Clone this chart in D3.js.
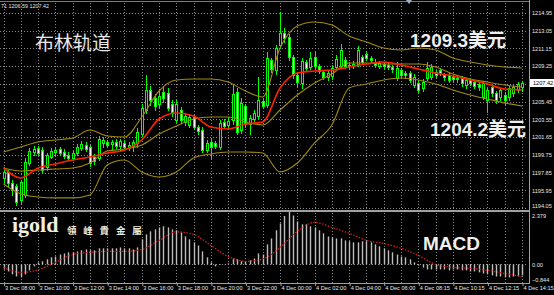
<!DOCTYPE html>
<html>
<head>
<meta charset="utf-8">
<script src="https://cdnjs.cloudflare.com/ajax/libs/d3/7.8.5/d3.min.js"></script>
<style>
  html, body { margin: 0; padding: 0; background: #000; }
  svg { display: block; }
  .ax text { fill: #e6e6e6; font-family: "Liberation Sans", Arial, sans-serif; font-size: 5.6px; }
</style>
</head>
<body>
<div id="chart"></div>
<script>
// M15 bars, [open, high, low, close]
const candles = [
  [1197.27,1198.44,1196.84,1197.91],[1197.91,1198.12,1196.41,1196.73],[1196.73,1197.05,1195.45,1195.98],
  [1196.41,1196.62,1194.37,1194.70],[1194.91,1197.05,1194.59,1196.84],[1195.45,1199.41,1195.23,1198.98],
  [1198.87,1200.48,1198.66,1200.16],[1200.05,1200.70,1199.73,1200.37],[1200.48,1200.70,1199.73,1199.94],
  [1200.27,1200.59,1197.91,1198.12],[1198.44,1199.94,1198.12,1199.73],[1199.52,1200.48,1199.41,1200.16],
  [1200.05,1200.59,1199.62,1200.27],[1200.37,1200.59,1199.73,1199.94],[1200.05,1200.37,1199.41,1199.62],
  [1199.73,1200.05,1199.19,1199.41],[1199.41,1200.16,1199.19,1199.94],[1199.94,1200.91,1199.73,1200.59],
  [1200.48,1201.23,1200.27,1200.91],[1200.80,1201.12,1200.16,1200.37],[1200.59,1200.80,1198.55,1198.87],
  [1199.52,1199.84,1198.77,1199.09],[1199.41,1201.77,1199.19,1201.45],[1201.02,1201.66,1200.59,1201.34],
  [1201.12,1201.34,1200.59,1200.80],[1200.91,1201.34,1200.27,1201.12],[1201.12,1201.45,1200.48,1200.70],
  [1200.70,1201.45,1200.27,1201.23],[1201.02,1201.34,1200.27,1200.59],[1200.59,1201.12,1200.27,1200.80],
  [1200.70,1201.34,1200.16,1201.12],[1201.02,1202.62,1200.59,1202.20],[1201.98,1205.20,1201.77,1204.77],
  [1204.55,1208.30,1204.23,1206.70],[1206.70,1207.13,1205.09,1205.63],[1205.84,1206.27,1204.55,1204.98],
  [1205.20,1206.80,1204.88,1206.05],[1206.48,1207.13,1205.41,1205.84],[1206.38,1206.91,1204.55,1204.77],
  [1205.20,1205.63,1203.91,1204.34],[1203.48,1205.63,1203.27,1205.20],[1204.55,1204.88,1203.16,1203.48],
  [1203.27,1204.23,1202.95,1203.91],[1202.95,1204.13,1202.73,1203.80],[1203.80,1204.02,1202.52,1202.73],
  [1202.73,1202.95,1201.98,1202.30],[1202.41,1202.73,1200.05,1200.27],[1200.27,1201.34,1200.05,1201.02],
  [1201.12,1201.55,1199.41,1200.59],[1201.02,1201.23,1200.48,1200.70],[1200.59,1203.48,1200.37,1203.16],
  [1203.27,1203.59,1202.62,1202.84],[1202.95,1203.70,1202.62,1203.38],[1203.48,1207.23,1203.05,1206.27],
  [1206.48,1206.91,1201.98,1202.20],[1202.41,1205.84,1202.09,1205.30],[1204.98,1205.20,1202.73,1203.05],
  [1203.05,1204.02,1201.98,1203.70],[1203.59,1204.55,1203.38,1204.23],[1203.91,1208.09,1203.70,1205.63],
  [1205.52,1205.84,1204.77,1204.98],[1205.09,1210.77,1204.88,1210.13],[1209.91,1210.13,1208.63,1208.95],
  [1208.84,1211.52,1208.41,1211.20],[1211.52,1215.06,1211.20,1212.81],[1212.81,1213.34,1211.84,1212.27],
  [1212.38,1212.70,1209.91,1210.23],[1210.23,1210.45,1207.98,1208.30],[1208.30,1208.63,1207.13,1207.55],
  [1207.45,1210.13,1206.91,1209.81],[1209.70,1209.91,1208.73,1209.06],[1209.16,1210.77,1208.95,1210.13],
  [1210.23,1210.77,1209.06,1209.27],[1209.27,1209.48,1208.52,1208.73],[1208.63,1208.84,1207.88,1208.09],
  [1208.09,1208.84,1207.77,1208.52],[1208.20,1209.38,1207.88,1209.06],[1209.16,1210.45,1208.95,1210.02],
  [1209.27,1211.63,1209.06,1210.98],[1209.91,1210.23,1209.06,1209.27],[1209.27,1209.70,1208.95,1209.38],
  [1209.27,1209.81,1209.06,1209.48],[1209.48,1211.41,1209.27,1210.98],[1210.23,1210.45,1209.48,1209.70],
  [1210.56,1210.88,1209.91,1210.13],[1210.13,1210.34,1209.70,1209.91],[1209.70,1210.02,1209.16,1209.38],
  [1209.27,1209.81,1209.06,1209.59],[1209.48,1209.70,1209.06,1209.27],[1209.38,1209.59,1208.95,1209.16],
  [1209.16,1209.38,1208.63,1208.95],[1207.98,1209.70,1207.77,1209.06],[1208.84,1209.06,1208.09,1208.30],
  [1208.52,1208.73,1207.98,1208.30],[1208.52,1208.73,1207.55,1207.77],[1207.23,1208.41,1207.02,1208.09],
  [1207.45,1207.77,1206.48,1206.70],[1206.91,1207.88,1206.59,1207.55],[1207.98,1209.70,1207.77,1209.06],
  [1208.09,1209.48,1207.88,1209.16],[1208.63,1208.84,1208.09,1208.30],[1208.84,1209.06,1208.30,1208.52],
  [1208.30,1208.52,1207.77,1208.09],[1208.30,1208.52,1207.55,1207.77],[1208.09,1208.30,1207.55,1207.88],
  [1207.88,1208.20,1207.55,1207.98],[1207.98,1208.20,1207.13,1207.45],[1207.23,1207.98,1206.91,1207.77],
  [1207.77,1207.98,1207.23,1207.45],[1207.55,1207.77,1206.91,1207.13],[1207.34,1207.55,1206.70,1207.02],
  [1205.95,1207.66,1205.73,1207.45],[1205.63,1206.91,1204.34,1206.70],[1207.02,1207.23,1206.05,1206.38],
  [1206.38,1206.59,1205.30,1205.63],[1205.95,1206.91,1205.63,1206.70],[1206.16,1206.48,1205.20,1205.63],
  [1205.95,1207.13,1205.63,1206.91],[1206.38,1207.23,1206.05,1207.02],[1206.70,1207.55,1206.48,1207.34],
  [1207.02,1207.71,1206.59,1207.42]
];

// bands, read every 4th bar
const bandBars = d3.range(0, 121, 4);
const upperBand = [1200.05,1200.59,1201.12,1201.34,1201.55,1202.41,1201.77,1201.66,1203.80,1206.59,1207.77,1207.88,1207.88,1207.55,1206.59,1205.95,1211.20,1213.56,1213.99,1213.66,1212.48,1211.84,1211.20,1210.98,1211.20,1210.98,1210.13,1209.70,1209.38,1209.16,1209.06];
const midBand = [1198.34,1198.02,1198.12,1198.23,1198.34,1198.87,1200.16,1200.37,1200.80,1201.98,1202.84,1203.59,1203.80,1203.80,1203.27,1202.95,1204.55,1206.16,1207.45,1208.41,1209.59,1209.59,1209.48,1209.48,1209.48,1209.16,1208.41,1207.88,1207.55,1207.23,1207.02];
const lowerBand = [1196.62,1195.56,1195.23,1195.13,1195.13,1195.45,1198.66,1199.19,1197.91,1197.37,1197.91,1199.41,1199.84,1200.05,1200.05,1199.94,1197.91,1198.87,1201.02,1202.95,1206.91,1207.34,1207.77,1207.98,1207.77,1207.34,1206.70,1206.16,1205.73,1205.30,1204.98];
const redLine = [1198.34,1197.27,1198.34,1198.77,1199.19,1199.52,1199.94,1200.27,1201.34,1203.59,1204.23,1203.91,1202.73,1202.52,1203.05,1203.27,1206.91,1208.52,1208.73,1208.84,1209.16,1209.48,1209.70,1209.38,1208.95,1208.52,1208.20,1207.77,1207.34,1206.80,1206.70];

// MACD main (histogram) per bar, signal every 4th bar
const macdHist = [
  -0.23,-0.32,-0.45,-0.55,-0.59,-0.45,-0.27,-0.09,0.09,0.14,0.23,0.32,0.36,0.45,0.50,0.55,0.55,0.59,0.64,0.68,
  0.64,0.64,0.73,0.73,0.73,0.73,0.73,0.77,0.73,0.73,0.68,0.77,1.14,1.36,1.50,1.59,1.68,1.73,1.68,1.59,
  1.55,1.45,1.27,1.14,1.00,0.86,0.59,0.32,0.09,-0.09,-0.02,0.01,0.05,0.27,0.23,0.14,0.14,0.18,0.27,0.50,
  0.45,0.91,1.18,1.55,1.86,2.20,2.379,2.22,1.95,1.82,1.82,1.73,1.68,1.55,1.41,1.27,1.23,1.18,1.18,1.09,
  1.05,1.00,1.00,1.05,1.05,1.00,0.91,0.82,0.73,0.64,0.55,0.45,0.36,0.32,0.23,0.09,-0.05,-0.14,-0.23,-0.23,
  -0.23,-0.23,-0.23,-0.27,-0.23,-0.23,-0.27,-0.27,-0.32,-0.32,-0.36,-0.41,-0.45,-0.50,-0.55,-0.55,-0.59,-0.59,-0.55,-0.55,
  -0.50
];
const macdSignal = [-0.14,-0.36,-0.25,0.09,0.45,0.55,0.59,0.59,0.68,1.09,1.48,1.36,0.86,0.36,0.14,0.25,0.77,1.50,1.91,1.68,1.41,1.09,0.95,0.73,0.41,0.0,-0.14,-0.18,-0.27,-0.41,-0.55];

const timeLabels = ["3 Dec 08:00","3 Dec 10:00","3 Dec 12:00","3 Dec 14:00","3 Dec 16:00","3 Dec 18:00",
  "3 Dec 20:00","3 Dec 22:00","4 Dec 00:00","4 Dec 02:00","4 Dec 04:00","4 Dec 06:00",
  "4 Dec 08:15","4 Dec 10:15","4 Dec 12:15","4 Dec 14:15"];
const priceTicks = [1214.95,1213.05,1211.15,1209.25,1207.35,1205.45,1203.55,1201.65,1199.75,1197.85,1195.95,1194.05];
const macdTicks = [2.379, 0, -0.844];
const lastPrice = 1207.42;

const W = 554, H = 295, plotR = 528;

const svg = d3.select("#chart").append("svg").attr("width", W).attr("height", H);
svg.append("rect").attr("width", W).attr("height", H).attr("fill", "#000");

const defs = svg.append("defs");
defs.append("clipPath").attr("id", "clipP").append("rect").attr("x", 0).attr("y", 2).attr("width", plotR).attr("height", 207);
defs.append("clipPath").attr("id", "clipM").append("rect").attr("x", 0).attr("y", 212).attr("width", plotR).attr("height", 71);

const x = d3.scalePoint().domain(d3.range(candles.length)).range([3.5, 522]);
const y = d3.scaleLinear().domain([1194.05, 1214.95]).range([208, 13]);
const ym = d3.scaleLinear().domain([-0.844, 2.379]).range([283, 212]);
const px = i => Math.round(x(i));

// grid
const grid = svg.append("g").attr("stroke", "#8a8a8a").attr("stroke-dasharray", "1,2")
  .attr("shape-rendering", "crispEdges");
grid.selectAll("line.h").data(priceTicks).join("line").attr("class", "h")
  .attr("x1", 0).attr("x2", plotR)
  .attr("y1", d => Math.round(y(d)) + 0.5).attr("y2", d => Math.round(y(d)) + 0.5);
grid.selectAll("line.v").data(bandBars).join("line").attr("class", "v")
  .attr("x1", d => px(d) + 0.5).attr("x2", d => px(d) + 0.5).attr("y1", 3).attr("y2", 209);
grid.selectAll("line.vm").data(bandBars).join("line").attr("class", "vm")
  .attr("x1", d => px(d) + 0.5).attr("x2", d => px(d) + 0.5).attr("y1", 213).attr("y2", 283);
grid.append("line").attr("x1", 0).attr("x2", plotR)
  .attr("y1", Math.round(ym(0)) + 0.5).attr("y2", Math.round(ym(0)) + 0.5);

// candles
const gC = svg.append("g").attr("clip-path", "url(#clipP)").attr("shape-rendering", "crispEdges");
gC.selectAll("line.wick").data(candles).join("line").attr("class", "wick")
  .attr("x1", (d, i) => px(i) + 0.5).attr("x2", (d, i) => px(i) + 0.5)
  .attr("y1", d => Math.round(y(d[1]))).attr("y2", d => Math.round(y(d[2])) + 1)
  .attr("stroke", "#00ff00");
gC.selectAll("rect.body").data(candles).join("rect").attr("class", "body")
  .attr("x", (d, i) => px(i) - 0.5)
  .attr("y", d => Math.round(y(Math.max(d[0], d[3]))) + 0.5)
  .attr("width", 2)
  .attr("height", d => Math.max(1, Math.round(y(Math.min(d[0], d[3]))) - Math.round(y(Math.max(d[0], d[3])))))
  .attr("fill", d => d[3] >= d[0] ? "#000" : "#fff")
  .attr("stroke", "#00ff00");

// bands and MA
const gL = svg.append("g").attr("clip-path", "url(#clipP)").attr("fill", "none");
const line = d3.line().x((d, i) => x(bandBars[i])).y(d => y(d)).curve(d3.curveMonotoneX);
[upperBand, midBand, lowerBand].forEach(b => {
  gL.append("path").attr("d", line(b)).attr("stroke", "#a08a12").attr("stroke-width", 1.1);
});
gL.append("path").attr("d", line(redLine)).attr("stroke", "#ff2200").attr("stroke-width", 1.6);

// MACD
const gM = svg.append("g").attr("clip-path", "url(#clipM)");
gM.selectAll("line.hist").data(macdHist).join("line").attr("class", "hist")
  .attr("x1", (d, i) => px(i) + 0.5).attr("x2", (d, i) => px(i) + 0.5)
  .attr("y1", ym(0)).attr("y2", d => ym(d))
  .attr("stroke", "#bdbdbd").attr("stroke-width", 1.4);
gM.append("path")
  .attr("d", d3.line().x((d, i) => x(bandBars[i])).y(d => ym(d)).curve(d3.curveMonotoneX)(macdSignal))
  .attr("fill", "none").attr("stroke", "#e02020").attr("stroke-width", 1.2).attr("stroke-dasharray", "1.5,1.5");

// frame
const frame = svg.append("g").attr("shape-rendering", "crispEdges");
frame.append("line").attr("x1", 0).attr("x2", 529).attr("y1", 1.5).attr("y2", 1.5).attr("stroke", "#7a7a7a");
frame.append("rect").attr("x", 0).attr("y", 210).attr("width", 530).attr("height", 2).attr("fill", "#a0a0a0");
frame.append("line").attr("x1", 0).attr("x2", 530).attr("y1", 283.5).attr("y2", 283.5).attr("stroke", "#a0a0a0");
frame.append("line").attr("x1", 529.5).attr("x2", 529.5).attr("y1", 0).attr("y2", 284).attr("stroke", "#a0a0a0");

// right price axis
const axP = svg.append("g").attr("class", "ax").attr("transform", "translate(529,0)")
  .call(d3.axisRight(y).tickValues(priceTicks).tickSize(0).tickPadding(3).tickFormat(d3.format(".2f")));
axP.select(".domain").remove();
axP.selectAll("text").attr("dy", (d) => d === 1194.05 ? "-0.05em" : "0.32em");

// current price box
svg.append("rect").attr("x", 530).attr("y", Math.round(y(lastPrice)) - 4).attr("width", 24).attr("height", 8).attr("fill", "#fff");
svg.append("text").attr("x", 533).attr("y", y(lastPrice) + 2)
  .attr("font-family", "Liberation Sans, Arial, sans-serif").attr("font-size", 5.6).attr("fill", "#000")
  .text(d3.format(".2f")(lastPrice));

// MACD axis
const axM = svg.append("g").attr("class", "ax").attr("transform", "translate(529,0)")
  .call(d3.axisRight(ym).tickValues(macdTicks).tickSize(0).tickPadding(3)
    .tickFormat(d => d === 0 ? "0.00" : d3.format(".3f")(d)));
axM.select(".domain").remove();
axM.selectAll("text").attr("dy", d => d > 1 ? "0.9em" : (d < 0 ? "-0.3em" : "0.32em"));

// time axis
const axT = svg.append("g").attr("class", "ax").attr("transform", "translate(0,283)")
  .call(d3.axisBottom(x).tickValues(d3.range(0, 121, 8)).tickSize(3).tickFormat((d, i) => timeLabels[i]));
axT.select(".domain").remove();
axT.selectAll(".tick line").attr("stroke", "#a0a0a0").attr("transform", "translate(0.5,0)");
axT.selectAll("text").attr("text-anchor", "start").attr("x", 1).attr("y", 3).attr("dy", "0.71em");

// header info
svg.append("text").attr("x", 1).attr("y", 8)
  .attr("font-family", "Liberation Sans, Arial, sans-serif").attr("font-size", 5.4).attr("fill", "#e6e6e6")
  .text("71 1206.59 1207.42");
svg.append("path").attr("d", "M406,0 L412,0 L409,4 Z").attr("fill", "#9fb0c4");

// annotations
const big = (t, xx, yy, w) => svg.append("text").attr("x", xx).attr("y", yy)
  .attr("font-family", "Liberation Sans, 'Noto Sans CJK SC', sans-serif")
  .attr("font-size", 19).attr("font-weight", w).attr("fill", "#efefef").text(t);
svg.append("text").attr("x", 35).attr("y", 50)
  .attr("font-family", "'Noto Sans CJK SC', sans-serif").attr("font-size", 19).attr("fill", "#e8e8e8").text("布林轨道");
big("1209.3美元", 410, 47, "bold");
big("1204.2美元", 430, 136, "bold");
big("MACD", 423, 250, "bold");

svg.append("text").attr("x", 12).attr("y", 232)
  .attr("font-family", "'Liberation Serif', 'DejaVu Serif', serif").attr("font-size", 22).attr("font-weight", "bold")
  .attr("fill", "#f3eee0").text("igold");
svg.append("text").attr("x", 67).attr("y", 234)
  .attr("font-family", "'Noto Sans CJK TC', sans-serif").attr("font-size", 9.5).attr("font-weight", "bold")
  .attr("letter-spacing", 6.8).attr("fill", "#efe9d8").text("領峰貴金屬");
</script>
</body>
</html>
